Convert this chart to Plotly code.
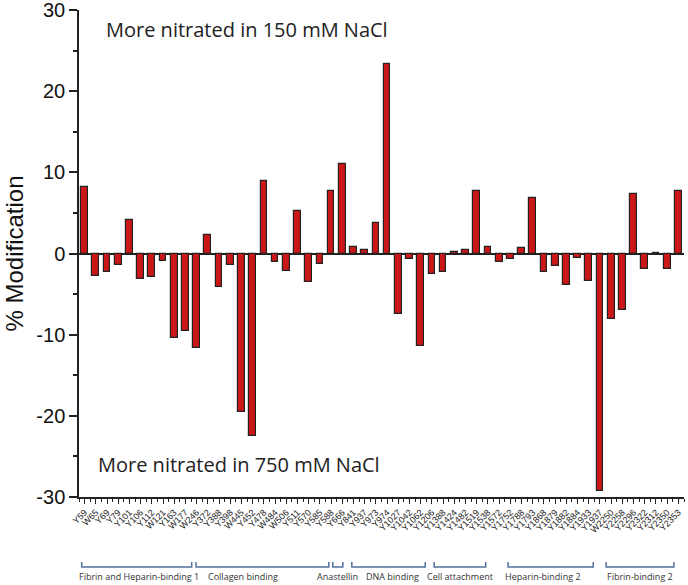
import plotly.graph_objects as go

sites = ["Y59", "W65", "Y69", "Y79", "Y101", "Y106", "Y112", "W121", "Y163", "W177",
         "W246", "Y372", "Y388", "Y398", "W445", "Y452", "Y478", "W484", "W506", "Y511",
         "Y570", "Y585", "Y588", "Y666", "Y841", "Y937", "Y973", "Y974", "Y1027", "Y1042",
         "Y1062", "Y1206", "Y1388", "Y1424", "Y1482", "Y1519", "Y1538", "Y1572", "Y1752", "Y1788",
         "Y1793", "Y1868", "Y1879", "Y1882", "Y1884", "Y1933", "Y1937", "W2250", "Y2258", "Y2296",
         "Y2322", "Y2312", "Y2350", "Y2353"]

modification = [8.2, -2.8, -2.3, -1.4, 4.1, -3.2, -2.9, -0.9, -10.4, -9.5,
                -11.6, 2.3, -4.1, -1.4, -19.5, -22.5, 9.0, -1.0, -2.1, 5.2,
                -3.5, -1.3, 7.7, 11.0, 0.8, 0.4, 3.8, 23.4, -7.4, -0.7,
                -11.4, -2.5, -2.3, 0.2, 0.4, 7.7, 0.8, -1.0, -0.7, 0.7,
                6.9, -2.3, -1.6, -3.9, -0.6, -3.4, -29.3, -8.1, -7.0, 7.3,
                -1.9, 0.1, -1.9, 7.7]

y_tick_vals = [-30, -20, -10, 0, 10, 20, 30]
y_tick_text = ["-30", "-20", "-10", "0", "10", "20", "30"]

# Domain brackets in category-index units (start, end) and label centres
domain_names = ["Fibrin and Heparin-binding 1", "Collagen binding", "Anastellin", "DNA binding",
                "Cell attachment", "Heparin-binding 2", "Fibrin-binding 2"]
domain_start = [-0.26, 9.95, 22.15, 23.85, 31.2, 37.8, 46.55]
domain_end = [9.56, 21.8, 23.05, 30.4, 35.8, 45.4, 52.6]
domain_label_x = [4.86, 14.15, 22.6, 27.5, 33.5, 40.9, 49.6]

idx = list(range(len(sites)))

fig = go.Figure()
fig.add_trace(go.Bar(
    x=idx, y=modification, width=0.6,
    marker=dict(color="#CC1719", line=dict(color="#222222", width=1.2)),
))

bracket_color = "#52719F"
ytop, ybot = -0.1335, -0.1437
for name, s, e, lx in zip(domain_names, domain_start, domain_end, domain_label_x):
    fig.add_shape(type="path", xref="x", yref="paper",
                  path=f"M {s},{ytop} L {s},{ybot} L {e},{ybot} L {e},{ytop}",
                  line=dict(color=bracket_color, width=1.5))
    fig.add_annotation(x=lx, y=-0.164, xref="x", yref="paper", text=name, showarrow=False,
                       font=dict(family="Open Sans", size=9, color="#333333"),
                       xanchor="center", yanchor="middle")

fig.add_annotation(x=0.278, y=0.959, xref="paper", yref="paper",
                   text="More nitrated in 150 mM NaCl", showarrow=False,
                   xanchor="center", yanchor="middle",
                   font=dict(family="Open Sans", size=20, color="#222222"))
fig.add_annotation(x=0.264, y=0.066, xref="paper", yref="paper",
                   text="More nitrated in 750 mM NaCl", showarrow=False,
                   xanchor="center", yanchor="middle",
                   font=dict(family="Open Sans", size=20, color="#222222"))

fig.update_layout(
    width=688, height=585,
    margin=dict(l=79, r=4, t=10, b=88),
    paper_bgcolor="white", plot_bgcolor="white",
    showlegend=False,
    bargap=0,
    xaxis=dict(
        range=[-0.5, len(sites) - 0.5],
        automargin=False,
        tickmode="array", tickvals=idx, ticktext=sites,
        tickangle=-45,
        ticklabeloverflow="allow",
        tickfont=dict(family="Liberation Sans", size=9, color="#222222"),
        ticks="outside", ticklen=5, tickwidth=1, tickcolor="#222",
        minor=dict(tick0=0.5, dtick=1, ticks="outside", ticklen=3, tickwidth=1, tickcolor="#222"),
        showline=True, linecolor="#222", linewidth=1.5,
        showgrid=False, zeroline=False,
    ),
    yaxis=dict(
        range=[-30.02, 30.02],
        automargin=False,
        tickmode="array", tickvals=y_tick_vals, ticktext=y_tick_text,
        ticklabeloverflow="allow",
        tickfont=dict(family="Liberation Sans", size=20, color="#111"),
        ticks="outside", ticklen=8, tickwidth=1.5, tickcolor="#222",
        minor=dict(tickmode="array", tickvals=[-25, -15, -5, 5, 15, 25], ticks="outside",
                   ticklen=4, tickwidth=1.5, tickcolor="#222"),
        showline=True, linecolor="#222", linewidth=1.5,
        showgrid=False,
        zeroline=True, zerolinecolor="#222", zerolinewidth=1.5,
        title=dict(text="% Modification", font=dict(family="Liberation Sans", size=24, color="#111"),
                   standoff=6),
    ),
)

fig.write_html("out.html", config={"displayModeBar": False},
               post_script="document.body.style.margin='0';document.body.style.padding='0';")
